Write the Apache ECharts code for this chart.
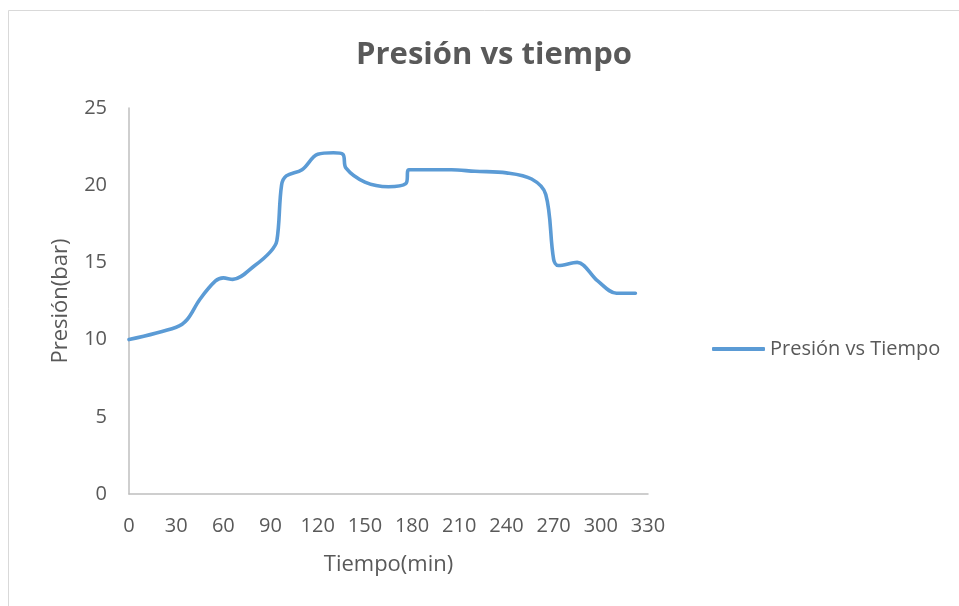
<!DOCTYPE html>
<html>
<head>
<meta charset="utf-8">
<script src="https://cdn.jsdelivr.net/npm/echarts@6/dist/echarts.min.js"></script>
<style>
  html, body { margin: 0; padding: 0; background: #ffffff; }
  #chart { width: 959px; height: 606px; }
</style>
</head>
<body>
<div id="chart"></div>
<script>
// Tiempo (min) y presión (bar) medidos
const tiempo = [0, 30, 37, 45, 55, 60, 66, 80, 90, 94, 97, 100, 110, 120, 130, 136, 138, 150, 165, 176, 178, 190, 205, 220, 240, 256, 265, 270, 273, 285, 298, 310, 322];
const presion = [10, 10.8, 11.3, 12.6, 13.8, 14, 13.9, 14.8, 15.7, 16.4, 20, 20.6, 21, 22, 22.1, 22, 21.1, 20.2, 19.9, 20.1, 21, 21, 21, 20.9, 20.8, 20.4, 19.4, 15.2, 14.8, 15, 13.8, 13, 13];

const xTicks = [0, 30, 60, 90, 120, 150, 180, 210, 240, 270, 300, 330];
const yTicks = [0, 5, 10, 15, 20, 25];

const serieNombre = 'Presión vs Tiempo';
const tituloTexto = 'Presión vs tiempo';

const puntos = tiempo.map((t, i) => [t, presion[i]]);

const fuente = '"Open Sans", "Noto Sans", sans-serif';
const gris = '#595959';
const azul = '#5b9bd5';

const chart = echarts.init(document.getElementById('chart'));
chart.setOption({
  backgroundColor: '#ffffff',
  animation: false,
  title: {
    text: tituloTexto,
    left: 489,
    top: 35,
    textAlign: 'center',
    textStyle: { fontFamily: fuente, fontSize: 31, fontWeight: 'bold', color: gris }
  },
  graphic: [{
    type: 'rect',
    shape: { x: 8.5, y: 10.5, width: 1000, height: 700 },
    style: { fill: 'none', stroke: '#d9d9d9', lineWidth: 1 },
    silent: true,
    z: -1
  }],
  legend: {
    left: 707,
    top: 334,
    itemWidth: 53,
    itemHeight: 4,
    itemGap: 4,
    icon: 'roundRect',
    textStyle: { fontFamily: fuente, fontSize: 20, color: gris, padding: [0, 0, 0, 0] },
    data: [{ name: serieNombre, icon: 'roundRect' }]
  },
  grid: { left: 129, top: 108, right: 311, bottom: 112, containLabel: false },
  xAxis: {
    type: 'value',
    min: xTicks[0],
    max: xTicks[xTicks.length - 1],
    interval: 30,
    name: 'Tiempo(min)',
    nameLocation: 'middle',
    nameGap: 60,
    nameTextStyle: { fontFamily: fuente, fontSize: 22, color: gris },
    axisLine: { show: true, lineStyle: { color: '#bfbfbf', width: 1.5 } },
    axisTick: { show: false },
    splitLine: { show: false },
    axisLabel: { fontFamily: fuente, fontSize: 20, color: gris, margin: 22 }
  },
  yAxis: {
    type: 'value',
    min: yTicks[0],
    max: yTicks[yTicks.length - 1],
    interval: 5,
    name: 'Presión(bar)',
    nameLocation: 'middle',
    nameGap: 57,
    nameTextStyle: { fontFamily: fuente, fontSize: 22, color: gris },
    axisLine: { show: true, lineStyle: { color: '#bfbfbf', width: 1.5 } },
    axisTick: { show: false },
    splitLine: { show: false },
    axisLabel: { fontFamily: fuente, fontSize: 20, color: gris, margin: 22 }
  },
  series: [{
    name: serieNombre,
    type: 'line',
    data: puntos,
    smooth: 0.35,
    symbol: 'none',
    lineStyle: { color: azul, width: 3.6, cap: 'round' },
    itemStyle: { color: azul }
  }]
});
</script>
</body>
</html>
